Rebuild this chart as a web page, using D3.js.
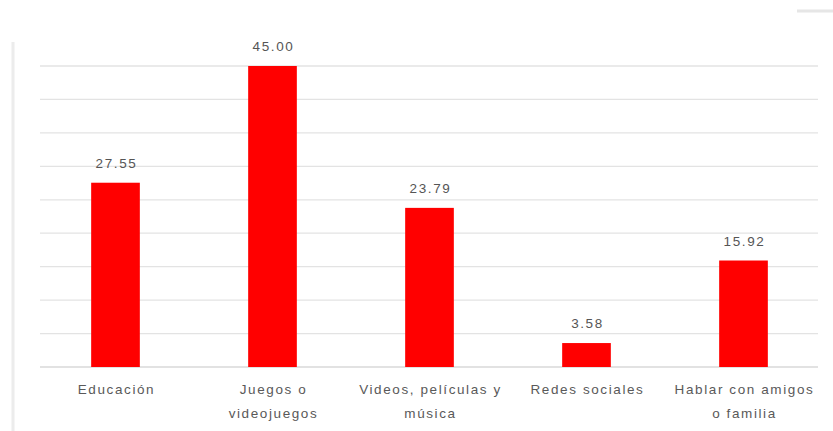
<!DOCTYPE html>
<html><head><meta charset="utf-8">
<script src="https://cdn.jsdelivr.net/npm/d3@7"></script>
<style>body{margin:0;background:#fff}svg{display:block}</style>
</head><body>
<script>
const categories = [["Educación"], ["Juegos o", "videojuegos"], ["Videos, películas y", "música"], ["Redes sociales"], ["Hablar con amigos", "o familia"]];
const values = [27.55, 45.00, 23.79, 3.58, 15.92];
const valueLabels = ["27.55", "45.00", "23.79", "3.58", "15.92"];
const gridTicks = [0, 5, 10, 15, 20, 25, 30, 35, 40, 45];

const W = 833, H = 431;
const svg = d3.select("body").append("svg").attr("width", W).attr("height", H);

const x = d3.scaleBand().domain(d3.range(categories.length)).range([37, 822]).paddingInner(0.69).paddingOuter(0.345);
const y = d3.scaleLinear().domain([0, 45]).range([367, 66]);

// left border line
svg.append("line").attr("x1", 13).attr("x2", 13).attr("y1", 42).attr("y2", H)
  .attr("stroke", "#ececec").attr("stroke-width", 3);
// top-right faint artifact
svg.append("line").attr("x1", 797).attr("x2", 833).attr("y1", 11).attr("y2", 11)
  .attr("stroke", "#e6e6e6").attr("stroke-width", 3);

// gridlines
svg.append("g").selectAll("line").data(gridTicks).join("line")
  .attr("x1", 40).attr("x2", 818)
  .attr("y1", d => y(d)).attr("y2", d => y(d))
  .attr("stroke", d => d === 0 ? "#d9d9d9" : "#e3e3e3").attr("stroke-width", 1.3);

// bars
svg.append("g").selectAll("rect").data(values).join("rect")
  .attr("x", (d, i) => x(i)).attr("width", x.bandwidth())
  .attr("y", d => y(d)).attr("height", d => y(0) - y(d))
  .attr("fill", "#ff0000");

// value labels
svg.append("g").selectAll("text").data(values).join("text")
  .attr("x", (d, i) => x(i) + x.bandwidth() / 2 + 1).attr("y", d => y(d) - 15)
  .attr("text-anchor", "middle").attr("font-family", "Liberation Sans, Arial, sans-serif")
  .attr("font-size", 13.5).attr("letter-spacing", "1.6px").attr("fill", "#555")
  .text((d, i) => valueLabels[i]);

// category labels
const cl = svg.append("g").selectAll("text").data(categories).join("text")
  .attr("x", (d, i) => x(i) + x.bandwidth() / 2 + 1).attr("y", 394)
  .attr("text-anchor", "middle").attr("font-family", "Liberation Sans, Arial, sans-serif")
  .attr("font-size", 13.5).attr("letter-spacing", "1.6px").attr("fill", "#595959");
cl.selectAll("tspan").data(d => d).join("tspan")
  .attr("x", function () { return d3.select(this.parentNode).attr("x"); })
  .attr("dy", (d, j) => j === 0 ? 0 : 24)
  .text(d => d);
</script>
</body></html>
